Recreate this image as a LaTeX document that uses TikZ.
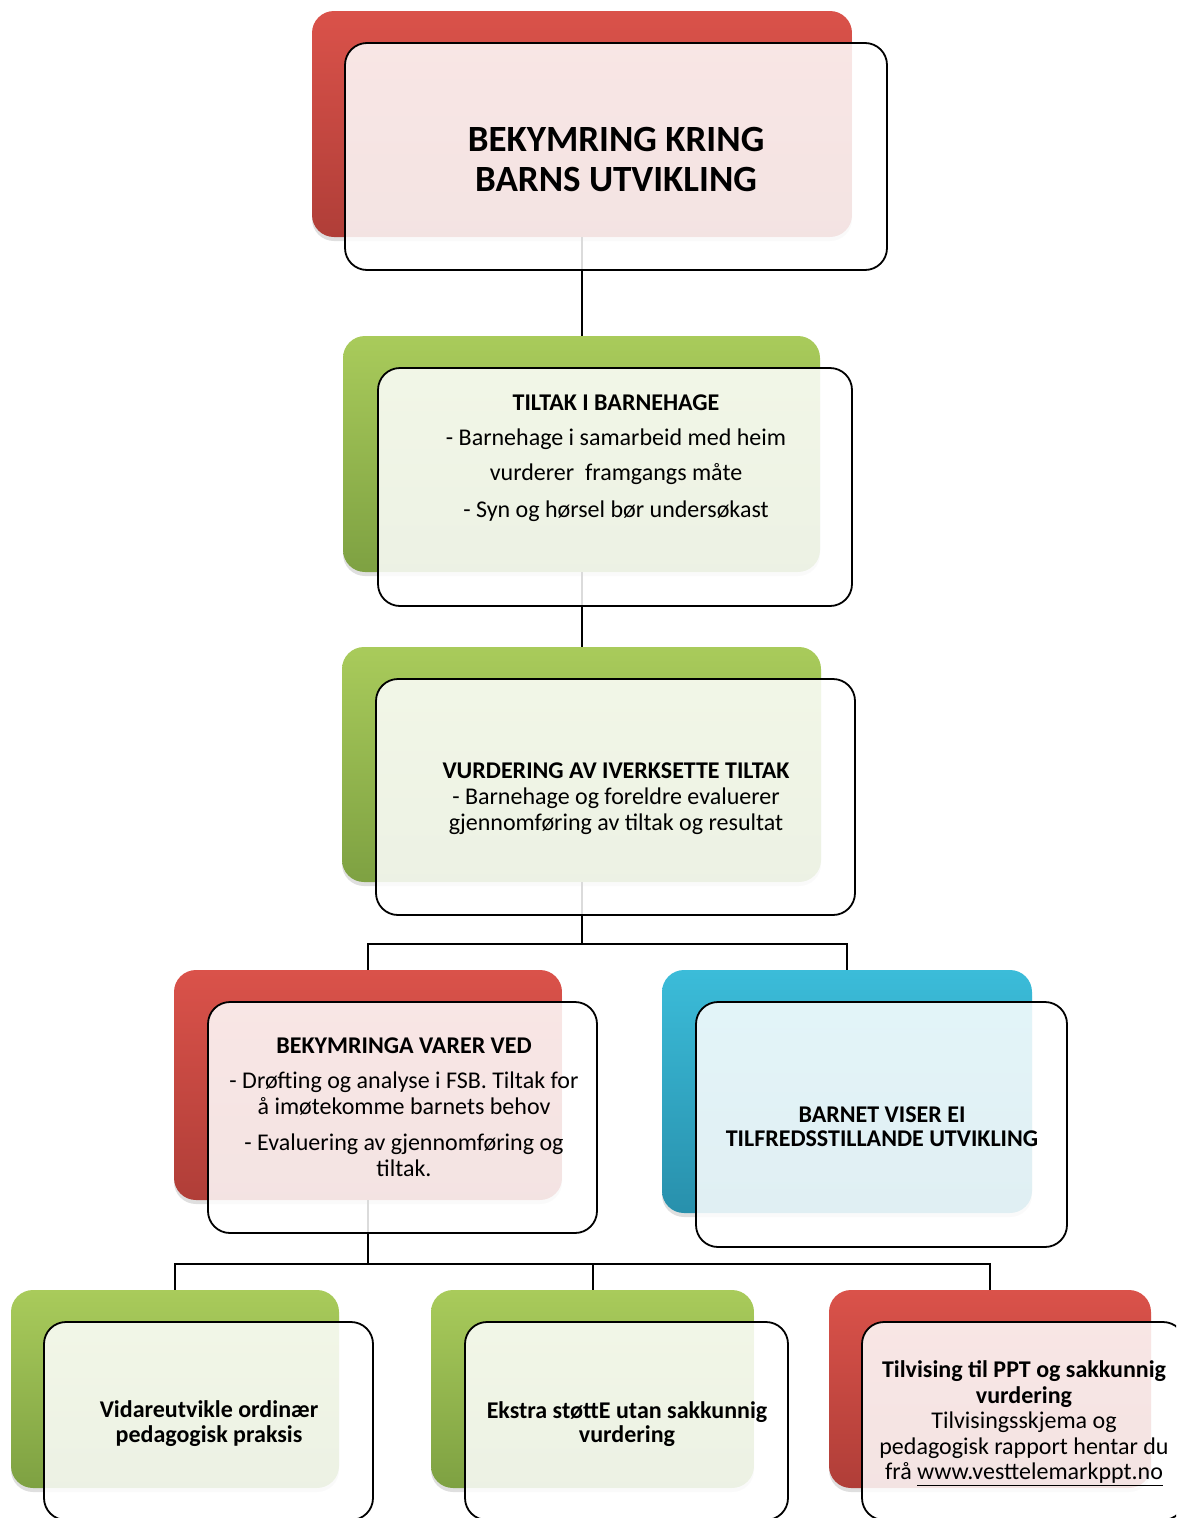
\documentclass[tikz,border=0pt]{standalone}
\usepackage{fontspec}
\setmainfont{Carlito}
\usetikzlibrary{shadows}
\definecolor{redT}{RGB}{218,82,74}
\definecolor{redB}{RGB}{176,62,56}
\definecolor{grnT}{RGB}{169,203,91}
\definecolor{grnB}{RGB}{126,161,66}
\definecolor{bluT}{RGB}{59,188,217}
\definecolor{bluB}{RGB}{40,144,172}
\tikzset{
  backbox/.style={rounded corners=22pt, inner sep=0pt, draw=none,
    drop shadow={shadow xshift=0pt, shadow yshift=-4pt, opacity=0.25}},
  redbox/.style={backbox, top color=redT, middle color=redT, bottom color=redB},
  grnbox/.style={backbox, top color=grnT, middle color=grnT, bottom color=grnB},
  blubox/.style={backbox, top color=bluT, middle color=bluT, bottom color=bluB},
  frontbox/.style={rounded corners=22pt, draw=black, line width=1.8pt, fill=white,
    fill opacity=0.86, draw opacity=1, inner sep=0pt},
  link/.style={draw=black, line width=2pt},
  txt/.style={align=center, inner sep=0pt, text=black},
}
\begin{document}
\begin{tikzpicture}[x=1pt,y=-1pt]
\useasboundingbox (0,0) rectangle (1176,1518);
\clip (0,0) rectangle (1176,1518);
% back boxes
\node[redbox, minimum width=540pt, minimum height=226pt] (b1) at (582,124) {};
\node[grnbox, minimum width=477pt, minimum height=236pt] (b2) at (581.5,454) {};
\node[grnbox, minimum width=479pt, minimum height=235pt] (b3) at (581.5,764.5) {};
\node[redbox, minimum width=388pt, minimum height=230pt] (b4) at (368,1085) {};
\node[blubox, minimum width=370pt, minimum height=243pt] (b5) at (847,1091.5) {};
\node[grnbox, minimum width=328pt, minimum height=198pt] (b6) at (175,1389) {};
\node[grnbox, minimum width=323pt, minimum height=198pt] (b7) at (592.5,1389) {};
\node[redbox, minimum width=322pt, minimum height=198pt] (b8) at (990,1389) {};
% connectors
\coordinate (j1) at (581.5,944);
\coordinate (j2) at (368,1264);
\draw[link] (b1.south) -- (b1.south |- b2.north);
\draw[link] (b2.south) -- (b3.north);
\draw[link] (b3.south) -- (j1) -| (b4.north);
\draw[link] (j1) -| (b5.north);
\draw[link] (b4.south) -- (j2) -| (b6.north);
\draw[link] (j2) -| (b7.north);
\draw[link] (j2) -| (b8.north);
% front boxes
\node[frontbox, minimum width=542pt, minimum height=227pt] (f1) at (616,156.5) {};
\node[frontbox, minimum width=474pt, minimum height=238pt] (f2) at (615,487) {};
\node[frontbox, minimum width=479pt, minimum height=236pt] (f3) at (615.5,797) {};
\node[frontbox, minimum width=389pt, minimum height=231pt] (f4) at (402.5,1117.5) {};
\node[frontbox, minimum width=371pt, minimum height=245pt] (f5) at (881.5,1124.5) {};
\node[frontbox, minimum width=329pt, minimum height=198pt] (f6) at (208.5,1421) {};
\node[frontbox, minimum width=323pt, minimum height=198pt] (f7) at (626.5,1421) {};
\node[frontbox, minimum width=323pt, minimum height=198pt] (f8) at (1023.5,1421) {};
% texts
\node[txt, font=\fontsize{37}{40}\selectfont\bfseries] (t1) at (616,160)
  {BEKYMRING KRING\\BARNS UTVIKLING};
\node[txt, font=\fontsize{24}{35}\selectfont] (t2) at (616,458)
  {\textbf{TILTAK I BARNEHAGE}\\- Barnehage i samarbeid med heim\\vurderer~ framgangs måte\\[2pt]- Syn og hørsel bør undersøkast};
\node[txt, font=\fontsize{24}{26}\selectfont] (t3) at (616,799)
  {\textbf{VURDERING AV IVERKSETTE TILTAK}\\- Barnehage og foreldre evaluerer\\gjennomføring av tiltak og resultat};
\node[txt, font=\fontsize{24}{26}\selectfont] (t4) at (404,1107)
  {\textbf{BEKYMRINGA VARER VED}\\[9pt]- Drøfting og analyse i FSB. Tiltak for\\å imøtekomme barnets behov\\[10pt]- Evaluering av gjennomføring og\\tiltak.};
\node[txt, font=\fontsize{24}{24}\selectfont\bfseries] (t5) at (882,1127)
  {BARNET VISER EI\\TILFREDSSTILLANDE UTVIKLING};
\node[txt, font=\fontsize{24}{25}\selectfont\bfseries] (t6) at (209,1424)
  {Vidareutvikle ordinær\\pedagogisk praksis};
\node[txt, font=\fontsize{24}{24}\selectfont\bfseries] (t7) at (627,1424)
  {Ekstra støttE utan sakkunnig\\vurdering};
\node[txt, font=\fontsize{24}{25.5}\selectfont] (t8) at (1024,1423)
  {\textbf{Tilvising til PPT og sakkunnig}\\\textbf{vurdering}\\Tilvisingsskjema og\\pedagogisk rapport hentar du\\frå \underline{www.vesttelemarkppt.no}};
\end{tikzpicture}
\end{document}
